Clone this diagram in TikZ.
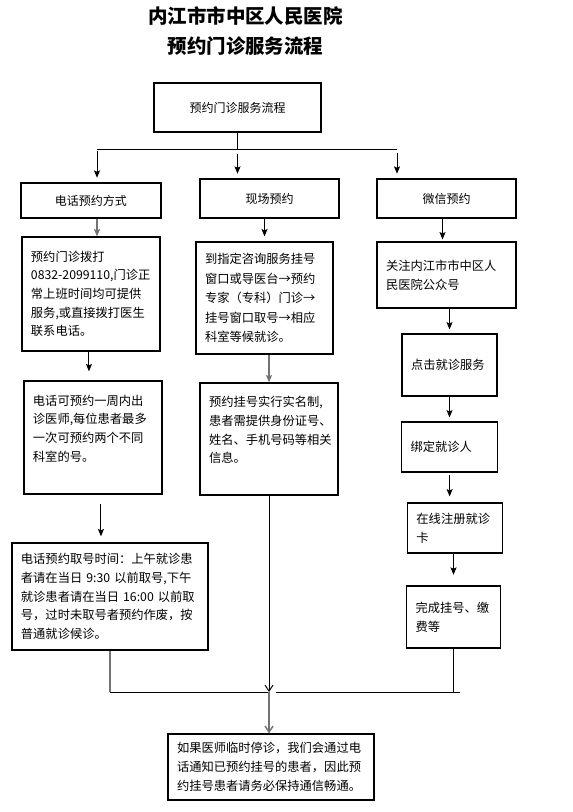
\documentclass[tikz,border=0pt]{standalone}
\usepackage{fontspec}
\usepackage{tikz}
\usetikzlibrary{arrows,arrows.meta}
\usetikzlibrary{positioning}
\newfontfamily\cjk{Noto Sans CJK SC}
\newcommand{\bodyfont}{\cjk\fontsize{9.2}{14}\selectfont}
\newcommand{\headfont}{\cjk\fontsize{9}{14}\selectfont}
\newcommand{\titlefont}{\cjk\bfseries\fontsize{14.6}{22.5}\selectfont}
\tikzset{
    flowbox/.style={
           rectangle,
           draw=black, line width=0.9pt,
           inner xsep=6.75pt,
           inner ysep=2pt,
           align=left,
           font=\bodyfont,
           },
    headbox/.style={
           flowbox,
           align=center,
           font=\headfont,
           },
    link/.style={draw=black, line width=0.75pt},
    graylink/.style={draw=black!55, line width=1.1pt},
    vtip/.style={-{Straight Barb[length=4.5pt,width=6pt]}},
}

\begin{document}
\begin{tikzpicture}[>={Stealth[length=5.5pt,width=4.5pt,inset=1pt]}, x=0.75pt, y=-0.75pt]
        \useasboundingbox (0,0) rectangle (573,812);

        % TITLE
        \node[font=\titlefont, align=center] (TITLE) at (245.5,31)
        {内江市市中区人民医院\\预约门诊服务流程};

        % TOP BOX
        \node[headbox,
            minimum width=125.25pt,
            minimum height=36.75pt] (TOP) at (237.5,107.5)
        {预约门诊服务流程};

        % THREE WAYS
        % middle one first, the other two left/right of it
        \node[headbox,
            minimum width=104.25pt,
            minimum height=29.25pt,
            below of=TOP,
            xshift=24pt,
            node distance=68.25pt,
            anchor=center] (SITE_HEAD)
        {现场预约};

        \node[headbox,
            minimum width=105pt,
            minimum height=26.25pt,
            left of=SITE_HEAD,
            yshift=-1.5pt,
            node distance=133.9pt,
            anchor=center] (PHONE_HEAD)
        {电话预约方式};

        \node[headbox,
            minimum width=104.25pt,
            minimum height=29.25pt,
            right of=SITE_HEAD,
            node distance=132.75pt,
            anchor=center] (WX_HEAD)
        {微信预约};

        % PHONE COLUMN
        \node[flowbox,
            text width=90pt,
            minimum height=85.5pt,
            below of=PHONE_HEAD,
            node distance=70.1pt,
            anchor=center] (PHONE_CALL)
        {预约门诊拨打\\
         0832-2099110,门诊正\\
         常上班时间均可提供\\
         服务,或直接拨打医生\\
         联系电话。};

        \node[flowbox,
            text width=90pt,
            minimum height=84.75pt,
            below of=PHONE_CALL,
            xshift=1.5pt,
            node distance=107.6pt,
            anchor=center] (PHONE_WEEK)
        {电话可预约一周内出\\
         诊医师,每位患者最多\\
         一次可预约两个不同\\
         科室的号。\\ \mbox{}};

        \node[flowbox,
            text width=133.5pt,
            minimum height=80.25pt,
            below of=PHONE_WEEK,
            xshift=12.75pt,
            node distance=119.25pt,
            anchor=center] (PHONE_TAKE)
        {电话预约取号时间：上午就诊患\\
         者请在当日~9:30~以前取号,下午\\
         就诊患者请在当日~16:00~以前取\\
         号，过时未取号者预约作废，按\\
         普通就诊候诊。};

        % SITE COLUMN
        \node[flowbox,
            text width=89.25pt,
            minimum height=84pt,
            below of=SITE_HEAD,
            xshift=-3.75pt,
            node distance=74.6pt,
            anchor=center] (SITE_DESK)
        {到指定咨询服务挂号\\[0.6pt]
         窗口或导医台→预约\\[0.6pt]
         专家（专科）门诊→\\[0.6pt]
         挂号窗口取号→相应\\[0.6pt]
         科室等候就诊。};

        \node[flowbox,
            text width=90pt,
            minimum height=84pt,
            below of=SITE_DESK,
            xshift=3.4pt,
            node distance=105.75pt,
            anchor=center] (SITE_NAME)
        {预约挂号实行实名制,\\
         患者需提供身份证号、\\
         姓名、手机号码等相关\\
         信息。\\ \mbox{}};

        % WECHAT COLUMN
        \node[flowbox,
            text width=90.75pt,
            minimum height=49.5pt,
            below of=WX_HEAD,
            node distance=57.4pt,
            anchor=center] (WX_FOLLOW)
        {关注内江市市中区人\\
         民医院公众号};

        \node[flowbox,
            text width=57.75pt,
            minimum height=46.5pt,
            below of=WX_FOLLOW,
            xshift=2.25pt,
            node distance=67.5pt,
            anchor=center] (WX_CLICK)
        {点击就诊服务};

        \node[flowbox,
            text width=58.5pt,
            minimum height=37.5pt,
            below of=WX_CLICK,
            node distance=61.5pt,
            anchor=center] (WX_BIND)
        {绑定就诊人};

        \node[flowbox,
            text width=57.75pt,
            minimum height=37.5pt,
            below of=WX_BIND,
            xshift=4.1pt,
            node distance=60.75pt,
            anchor=center] (WX_CARD)
        {在线注册就诊\\
         卡};

        \node[flowbox,
            text width=57pt,
            minimum height=46.5pt,
            below of=WX_CARD,
            xshift=-1.1pt,
            node distance=66.75pt,
            anchor=center] (WX_PAY)
        {完成挂号、缴\\
         费等};

        % NOTICE
        \node[flowbox,
            text width=141pt,
            minimum height=49.5pt,
            below of=SITE_NAME,
            xshift=1.5pt,
            node distance=246pt,
            anchor=center] (NOTICE)
        {如果医师临时停诊，我们会通过电\\
         话通知已预约挂号的患者，因此预\\
         约挂号患者请务必保持通信畅通。};

        % split bar under the top box
        \coordinate (BAR_L) at (97,150);
        \coordinate (BAR_R) at (397,150);
        \draw[link] (TOP.south) -- (TOP.south |- BAR_L);
        \draw[link] (BAR_L) -- (BAR_R);
        \draw[link,->,shorten <=1pt,shorten >=3.5pt] (BAR_L) -- (BAR_L |- PHONE_HEAD.north);
        \draw[link,->,shorten <=3pt,shorten >=3.5pt] (TOP.south |- BAR_L) -- (TOP.south |- SITE_HEAD.north);
        \draw[link,->,shorten <=2pt,shorten >=3.5pt] (BAR_R) -- (BAR_R |- WX_HEAD.north);

        % phone paths
        \draw[graylink,->] (BAR_L |- PHONE_HEAD.south) -- (BAR_L |- PHONE_CALL.north);
        \draw[link,->,shorten >=6.75pt] ([xshift=-1.5pt]PHONE_CALL.south) -- ([xshift=-1.5pt]PHONE_CALL.south |- PHONE_WEEK.north);
        \draw[link,->,shorten <=6.75pt,shorten >=4.5pt] ([xshift=-6.75pt]PHONE_TAKE.north |- PHONE_WEEK.south) -- ([xshift=-6.75pt]PHONE_TAKE.north);

        % site paths
        \draw[link,->,shorten >=3.75pt] (SITE_DESK.north |- SITE_HEAD.south) -- (SITE_DESK.north);
        \draw[graylink,->] (SITE_NAME.north |- SITE_DESK.south) -- (SITE_NAME.north);

        % wechat paths
        \draw[link,->,shorten >=1.5pt] ([xshift=-3pt]WX_FOLLOW.north |- WX_HEAD.south) -- ([xshift=-3pt]WX_FOLLOW.north);
        \draw[link,->,shorten >=3pt] (WX_CLICK.north |- WX_FOLLOW.south) -- (WX_CLICK.north);
        \draw[link,->,shorten >=3pt] (WX_BIND.north |- WX_CLICK.south) -- (WX_BIND.north);
        \draw[link,->,shorten <=2pt,shorten >=4.5pt] ([xshift=-4pt]WX_CARD.north |- WX_BIND.south) -- ([xshift=-4pt]WX_CARD.north);
        \draw[link,->,shorten >=8pt] (WX_PAY.north |- WX_CARD.south) -- (WX_PAY.north);

        % join bar above the notice
        \coordinate (BAR_END) at (460,692);
        \coordinate (JOIN) at (SITE_NAME.south |- BAR_END);
        \draw[graylink] (PHONE_TAKE.south) -- (PHONE_TAKE.south |- JOIN);
        \draw[link] (PHONE_TAKE.south |- JOIN) -- (JOIN);
        \draw[link] ([xshift=5pt]JOIN) -- (BAR_END);
        \draw[link] (WX_PAY.south) -- (WX_PAY.south |- BAR_END);
        \draw[link,vtip] (SITE_NAME.south) -- (JOIN);
        \draw[graylink,vtip] (JOIN) -- (JOIN |- NOTICE.north);

\end{tikzpicture}
\end{document}
